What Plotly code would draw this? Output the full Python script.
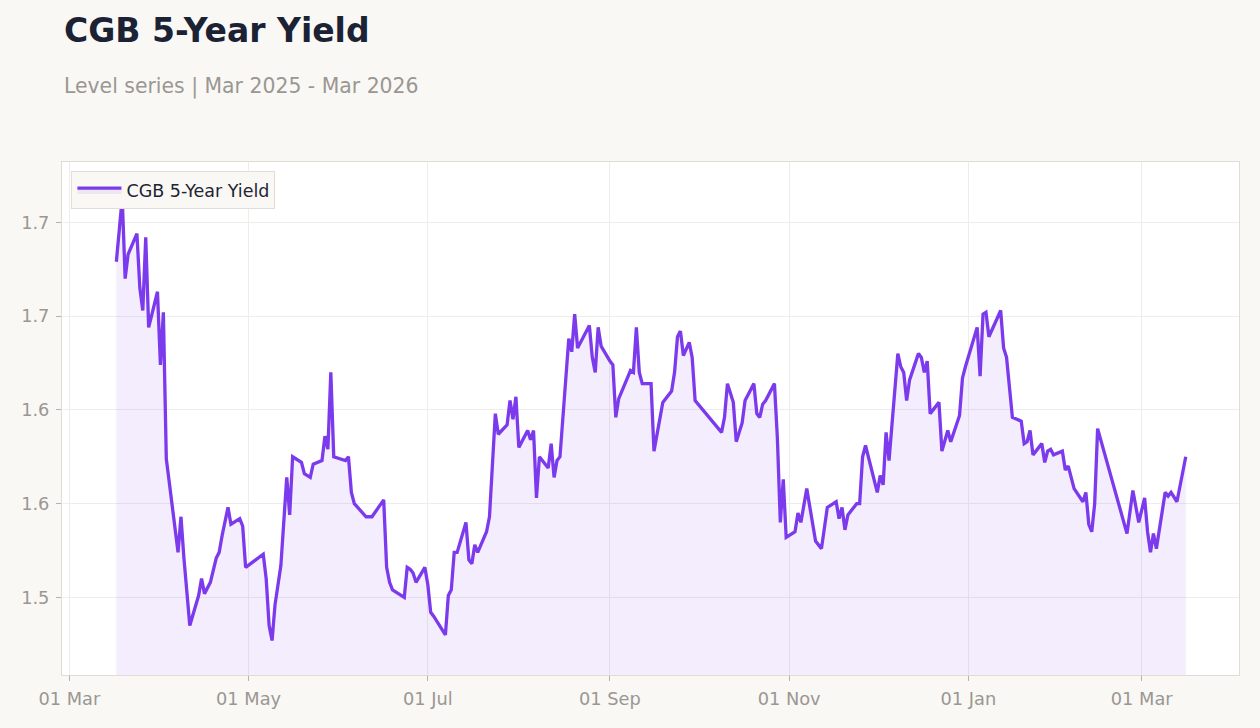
import plotly.graph_objects as go

dates = [
    "2025-03-17", "2025-03-19", "2025-03-20", "2025-03-21", "2025-03-24", "2025-03-25",
    "2025-03-26", "2025-03-27", "2025-03-28", "2025-03-31", "2025-04-01", "2025-04-02",
    "2025-04-03", "2025-04-07", "2025-04-08", "2025-04-09", "2025-04-11", "2025-04-14",
    "2025-04-15", "2025-04-16", "2025-04-18", "2025-04-20", "2025-04-21", "2025-04-22",
    "2025-04-24", "2025-04-25", "2025-04-28", "2025-04-29", "2025-04-30", "2025-05-06",
    "2025-05-07", "2025-05-08", "2025-05-09", "2025-05-10", "2025-05-12", "2025-05-13",
    "2025-05-14", "2025-05-15", "2025-05-16", "2025-05-19", "2025-05-20", "2025-05-22",
    "2025-05-23", "2025-05-26", "2025-05-27", "2025-05-28", "2025-05-29", "2025-05-30",
    "2025-06-03", "2025-06-04", "2025-06-05", "2025-06-06", "2025-06-10", "2025-06-12",
    "2025-06-16", "2025-06-17", "2025-06-18", "2025-06-19", "2025-06-21", "2025-06-23",
    "2025-06-24", "2025-06-25", "2025-06-26", "2025-06-27", "2025-06-30", "2025-07-01",
    "2025-07-02", "2025-07-03", "2025-07-07", "2025-07-08", "2025-07-09", "2025-07-10",
    "2025-07-11", "2025-07-14", "2025-07-15", "2025-07-16", "2025-07-17", "2025-07-18",
    "2025-07-21", "2025-07-22", "2025-07-24", "2025-07-25", "2025-07-28", "2025-07-29",
    "2025-07-30", "2025-07-31", "2025-08-01", "2025-08-04", "2025-08-05", "2025-08-06",
    "2025-08-07", "2025-08-08", "2025-08-11", "2025-08-12", "2025-08-13", "2025-08-14",
    "2025-08-15", "2025-08-18", "2025-08-19", "2025-08-20", "2025-08-21", "2025-08-22",
    "2025-08-25", "2025-08-26", "2025-08-27", "2025-08-28", "2025-08-29", "2025-09-01",
    "2025-09-02", "2025-09-03", "2025-09-04", "2025-09-08", "2025-09-09", "2025-09-10",
    "2025-09-11", "2025-09-12", "2025-09-15", "2025-09-16", "2025-09-19", "2025-09-22",
    "2025-09-23", "2025-09-24", "2025-09-25", "2025-09-26", "2025-09-28", "2025-09-29",
    "2025-09-30", "2025-10-09", "2025-10-10", "2025-10-11", "2025-10-13", "2025-10-14",
    "2025-10-16", "2025-10-17", "2025-10-20", "2025-10-21", "2025-10-22", "2025-10-23",
    "2025-10-24", "2025-10-27", "2025-10-28", "2025-10-29", "2025-10-30", "2025-10-31",
    "2025-11-03", "2025-11-04", "2025-11-05", "2025-11-07", "2025-11-10", "2025-11-11",
    "2025-11-12", "2025-11-14", "2025-11-17", "2025-11-18", "2025-11-19", "2025-11-20",
    "2025-11-21", "2025-11-24", "2025-11-25", "2025-11-26", "2025-11-27", "2025-12-01",
    "2025-12-02", "2025-12-03", "2025-12-04", "2025-12-05", "2025-12-08", "2025-12-09",
    "2025-12-10", "2025-12-11", "2025-12-12", "2025-12-15", "2025-12-16", "2025-12-17",
    "2025-12-18", "2025-12-19", "2025-12-22", "2025-12-23", "2025-12-25", "2025-12-26",
    "2025-12-29", "2025-12-30", "2025-12-31", "2026-01-04", "2026-01-05", "2026-01-06",
    "2026-01-07", "2026-01-08", "2026-01-12", "2026-01-13", "2026-01-14", "2026-01-16",
    "2026-01-19", "2026-01-20", "2026-01-21", "2026-01-22", "2026-01-23", "2026-01-26",
    "2026-01-27", "2026-01-28", "2026-01-29", "2026-01-30", "2026-02-02", "2026-02-03",
    "2026-02-04", "2026-02-06", "2026-02-09", "2026-02-10", "2026-02-11", "2026-02-12",
    "2026-02-13", "2026-02-14", "2026-02-24", "2026-02-26", "2026-02-28", "2026-03-02",
    "2026-03-03", "2026-03-04", "2026-03-05", "2026-03-06", "2026-03-09", "2026-03-10",
    "2026-03-11", "2026-03-13", "2026-03-16",
]

yield_5y = [
    1.679, 1.713, 1.670, 1.683, 1.694, 1.665,
    1.653, 1.692, 1.644, 1.663, 1.624, 1.652,
    1.574, 1.524, 1.543, 1.521, 1.485, 1.501,
    1.510, 1.502, 1.508, 1.521, 1.524, 1.533,
    1.548, 1.539, 1.542, 1.538, 1.516, 1.523,
    1.510, 1.485, 1.477, 1.496, 1.517, 1.542,
    1.564, 1.544, 1.575, 1.572, 1.566, 1.564,
    1.571, 1.573, 1.586, 1.579, 1.620, 1.575,
    1.573, 1.575, 1.556, 1.550, 1.543, 1.543,
    1.552, 1.516, 1.508, 1.504, 1.502, 1.500,
    1.516, 1.515, 1.513, 1.508, 1.516, 1.507,
    1.492, 1.490, 1.480, 1.501, 1.504, 1.524,
    1.524, 1.540, 1.520, 1.518, 1.528, 1.524,
    1.535, 1.543, 1.598, 1.587, 1.592, 1.605,
    1.595, 1.607, 1.580, 1.589, 1.584, 1.589,
    1.553, 1.575, 1.569, 1.582, 1.564, 1.573,
    1.575, 1.638, 1.631, 1.651, 1.633, 1.636,
    1.645, 1.628, 1.620, 1.644, 1.634, 1.626,
    1.624, 1.596, 1.606, 1.621, 1.620, 1.644,
    1.620, 1.614, 1.614, 1.578, 1.604, 1.610,
    1.620, 1.639, 1.642, 1.629, 1.636, 1.628,
    1.605, 1.588, 1.596, 1.614, 1.604, 1.583,
    1.593, 1.605, 1.614, 1.598, 1.596, 1.603,
    1.605, 1.614, 1.585, 1.540, 1.563, 1.532,
    1.535, 1.545, 1.540, 1.558, 1.530, 1.528,
    1.526, 1.548, 1.551, 1.542, 1.548, 1.536,
    1.544, 1.550, 1.550, 1.575, 1.581, 1.556,
    1.565, 1.560, 1.588, 1.573, 1.630, 1.623,
    1.620, 1.605, 1.616, 1.630, 1.628, 1.620,
    1.626, 1.598, 1.604, 1.578, 1.589, 1.583,
    1.597, 1.617, 1.623, 1.644, 1.618, 1.651,
    1.652, 1.639, 1.653, 1.633, 1.628, 1.596,
    1.594, 1.582, 1.583, 1.589, 1.576, 1.582,
    1.572, 1.578, 1.579, 1.576, 1.578, 1.568,
    1.570, 1.558, 1.551, 1.556, 1.539, 1.535,
    1.550, 1.590, 1.534, 1.557, 1.540, 1.553,
    1.535, 1.524, 1.534, 1.526, 1.556, 1.554,
    1.556, 1.551, 1.575,
]

y_tickvals = [1.50, 1.55, 1.60, 1.65, 1.70]
y_ticktext = ["1.5", "1.6", "1.6", "1.7", "1.7"]
x_range = ["2025-02-26 12:00", "2026-04-03 03:00"]
y_range = [1.4586, 1.7322]

title_text = "CGB 5-Year Yield"
subtitle_text = "Level series | Mar 2025 - Mar 2026"
series_name = "CGB 5-Year Yield"

LINE = "#7c3aed"
FONT = "DejaVu Sans, Verdana, sans-serif"
MUTED = "#9a9792"

fig = go.Figure()
fig.add_trace(go.Scatter(
    x=dates, y=yield_5y, mode="lines", name=series_name,
    line=dict(color=LINE, width=3.3),
    fill="tozeroy", fillcolor="rgba(124,58,237,0.09)",
    showlegend=True,
))

fig.update_layout(
    width=1260, height=728,
    margin=dict(l=62, r=21, t=162, b=53),
    paper_bgcolor="#f9f8f5",
    plot_bgcolor="#ffffff",
    font=dict(family=FONT, size=17, color=MUTED),
    showlegend=True,
    legend=dict(
        x=0.008, y=0.982, xanchor="left", yanchor="top",
        bgcolor="#f9f8f5", bordercolor="#e2ddd6", borderwidth=1,
        itemwidth=44,
        font=dict(family=FONT, size=17.5, color="#1e2433"),
    ),
    xaxis=dict(
        type="date", range=x_range,
        tickformat="%d %b", dtick="M2", tick0="2025-03-01",
        ticks="outside", ticklen=5, tickcolor="#b5b1ab",
        tickfont=dict(size=17.8, color=MUTED),
        ticklabelstandoff=3,
        showgrid=True, gridcolor="#eeedeb", gridwidth=1,
        showline=True, linecolor="#e0dbd4", linewidth=1, mirror=True,
        zeroline=False,
    ),
    yaxis=dict(
        range=y_range,
        tickmode="array", tickvals=y_tickvals, ticktext=y_ticktext,
        ticks="outside", ticklen=5, tickcolor="#b5b1ab",
        tickfont=dict(size=17.8, color=MUTED),
        ticklabelstandoff=3,
        showgrid=True, gridcolor="#eeedeb", gridwidth=1,
        showline=True, linecolor="#e0dbd4", linewidth=1, mirror=True,
        zeroline=False,
    ),
    annotations=[
        dict(text="<b>" + title_text + "</b>", xref="paper", yref="paper",
             x=0, y=(675 - 30) / 513, xanchor="left", yanchor="middle",
             showarrow=False, font=dict(family=FONT, size=33, color="#1a2233")),
        dict(text=subtitle_text, xref="paper", yref="paper",
             x=0, y=(675 - 86) / 513, xanchor="left", yanchor="middle",
             showarrow=False, font=dict(family=FONT, size=20.4, color=MUTED)),
    ],
)

fig.write_html("out.html")
